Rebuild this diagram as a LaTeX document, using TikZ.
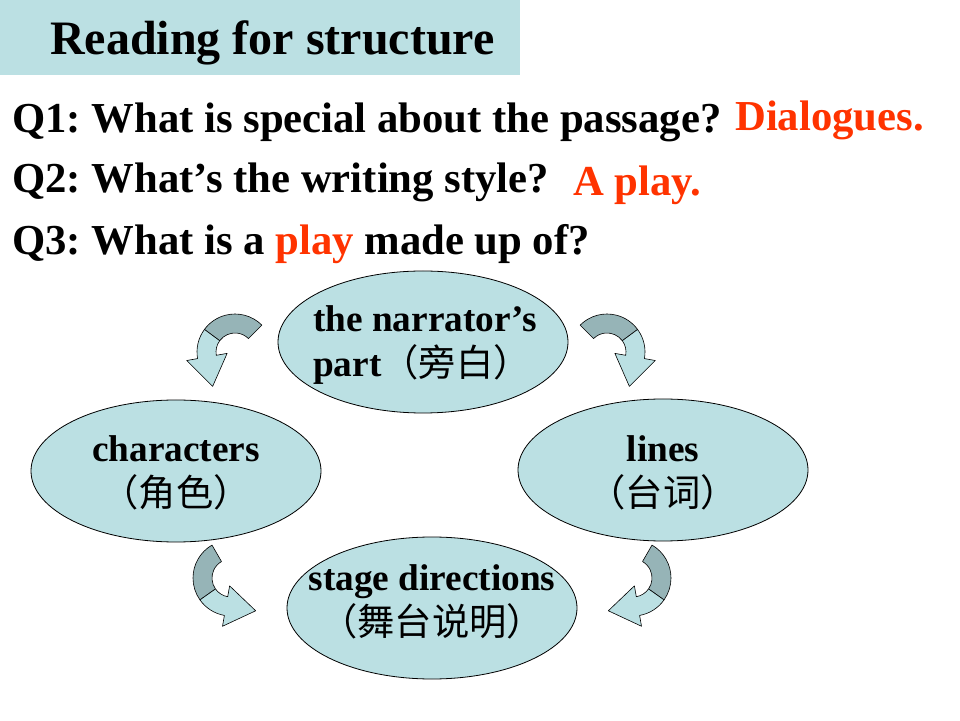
\documentclass[tikz,border=0pt]{standalone}
\usepackage{fontspec}
\setmainfont{Liberation Serif}
\newfontfamily\cjk{Noto Sans CJK SC}
\frenchspacing
\usetikzlibrary{shapes.geometric}
\definecolor{slideblue}{RGB}{187,224,227}
\definecolor{slidegrey}{RGB}{150,180,183}
\definecolor{answerred}{RGB}{255,51,0}
\newcommand{\titletext}{\fontsize{48}{56}\selectfont\bfseries}
\newcommand{\qtext}{\fontsize{42.7}{50}\selectfont\bfseries}
\newcommand{\bubbletext}{\fontsize{37.3}{45}\selectfont\bfseries}
\newcommand{\zh}[1]{{\cjk\mdseries #1}}
\tikzstyle{question}=[anchor=base west,inner sep=0pt,font=\qtext]
\tikzstyle{answer}=[question,text=answerred]
\tikzstyle{bubble}=[ellipse,draw=black,line width=0.8pt,fill=slideblue,minimum width=290pt,minimum height=142pt,inner sep=0pt]
\tikzstyle{bubbletext}=[inner sep=0pt,font=\bubbletext]
\tikzstyle{arrowback}=[fill=slidegrey,draw=black,line width=0.6pt,line join=round]
\tikzstyle{arrowfront}=[fill=slideblue,draw=black,line width=0.6pt,line join=round]
\newcommand{\bentarrow}[4]{% center x, center y, start angle, end angle
\pgfmathsetmacro{\turn}{ifthenelse(#4>#3,1,-1)} % 1 = counterclockwise
\pgfmathsetmacro{\midang}{#3+0.68*(#4-#3)}
\pgfmathsetmacro{\tipx}{28*cos(#4)+30*cos(#4+90*\turn)}
\pgfmathsetmacro{\tipy}{28*sin(#4)+30*sin(#4+90*\turn)}
\begin{scope}[shift={(#1,#2)}]
	\filldraw[arrowback] (#3:38) arc[start angle=#3,end angle=\midang,radius=38] -- (\midang:19) arc[start angle=\midang,end angle=#3,radius=19] -- cycle;
	\filldraw[arrowfront] (\midang:38) arc[start angle=\midang,end angle=#4,radius=38] -- (#4:49) -- (\tipx,\tipy) -- (#4:8) -- (#4:19) arc[start angle=#4,end angle=\midang,radius=19] -- cycle;
\end{scope}
}

\begin{document}
\begin{tikzpicture}[x=1pt,y=1pt]
	\useasboundingbox (0,0) rectangle (960,720);
	%title bar
	\fill[slideblue] (0,645) rectangle (520,720);
	\node[anchor=base west,inner sep=0pt,font=\titletext] (title) at (50,665) {Reading for structure};
	%questions
	\node[question] (q1) at (12,587) {Q1: What is special about the passage?};
	\node[question] (q2) at (12,527) {Q2: What’s the writing style?};
	\node[question] (q3) at (12,465) {Q3: What is a \textcolor{answerred}{play} made up of?};
	\node[answer] (a1) at (735,589) {Dialogues.};
	\node[answer] (a2) at (573,524) {A play.};
	%parts of a play
	\node[bubble] (narrator) at (423,378) {};
	\node[bubble] (characters) at (176,249) {};
	\node[bubble] (lines) at (663,250) {};
	\node[bubble] (directions) at (432,112) {};
	\node[bubbletext,align=left,anchor=west] (narratortext) at (313,375) {the narrator’s\\part\zh{（旁白）}};
	\node[bubbletext,align=center] (characterstext) at (176,247) {characters\\\zh{（角色）}};
	\node[bubbletext,align=center] (linestext) at (663,247) {lines\\\zh{（台词）}};
	\node[bubbletext,align=center] (directionstext) at (432,118) {stage directions\\\zh{（舞台说明）}};
	%curved arrows
	\bentarrow{235}{368}{45}{190}
	\bentarrow{607}{368}{135}{-10}
	\bentarrow{633}{142}{60}{-80}
	\bentarrow{231}{142}{120}{260}
\end{tikzpicture}
\end{document}
